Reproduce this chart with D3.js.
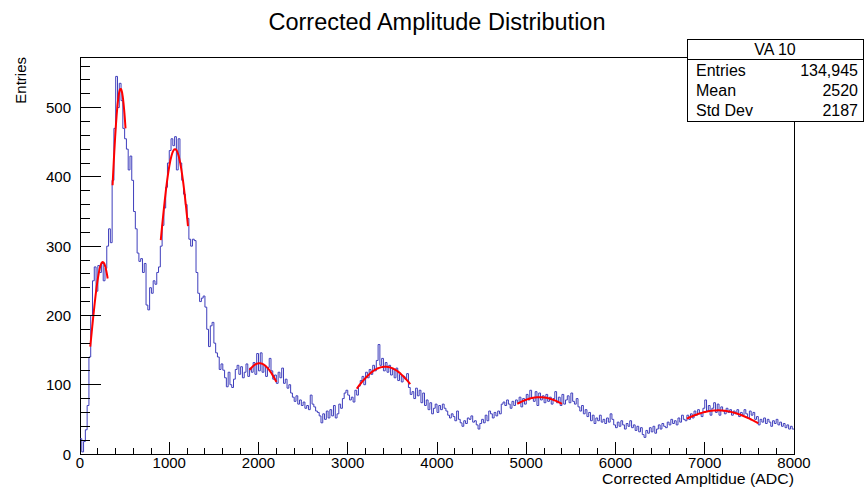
<!DOCTYPE html>
<html><head><meta charset="utf-8">
<script src="https://cdn.jsdelivr.net/npm/d3@7"></script>
<style>
html,body{margin:0;padding:0;background:#fff;}
svg{display:block;font-family:"Liberation Sans",Arial,Helvetica,sans-serif;}
</style></head>
<body><svg id="c" width="864" height="488"></svg>
<script>
// Histogram: 400 bins of 20 ADC from 0 to 8000
const binLow = 0, binHigh = 8000, binWidth = 20;
const counts = [
22,3,18,35,70,140,200,250,270,235, 272,262,275,250,268,300,325,305,395,470,
545,500,535,510,470,455,440,410,430,395, 350,325,290,278,282,262,275,215,208,240,
232,250,245,262,270,300,330,355,385,420, 438,455,445,458,410,455,420,395,375,360,
340,310,300,310,308,262,232,220,225,228, 212,180,155,185,190,160,146,140,122,130,
121,110,97,118,100,96,108,122,128,115, 126,110,118,130,112,124,118,132,115,145,
120,146,118,128,112,125,138,120,108,114, 102,118,110,124,102,108,95,100,88,82,
76,84,72,78,70,75,66,70,64,85, 72,68,62,60,55,45,58,50,62,52,
64,55,70,52,58,72,66,80,88,92, 85,78,82,75,92,85,98,106,112,100,
118,110,122,115,128,120,135,158,128,138, 120,132,118,128,114,122,110,124,106,115,
104,112,108,116,96,86,90,80,95,84, 92,74,88,70,78,64,74,58,66,72,
60,70,64,72,66,62,56,52,58,54, 48,62,50,45,40,48,44,52,50,55,
46,48,42,36,44,50,45,56,48,62, 58,52,60,55,62,58,72,75,70,78,
72,66,76,70,78,74,82,68,80,72, 86,78,92,80,76,90,70,88,78,84,
74,86,76,82,72,80,90,74,82,70, 86,72,78,84,74,88,76,72,80,68,
62,70,58,64,54,60,48,56,44,52, 48,56,46,50,44,52,46,58,50,42,
38,46,40,48,42,36,44,40,48,38, 42,34,40,32,38,28,24,34,30,38,
32,40,30,36,42,36,44,40,38,46, 42,50,44,48,42,52,46,56,50,48,
56,50,58,52,62,56,64,58,54,66, 78,62,70,56,66,74,60,72,56,68,
62,58,66,60,64,56,62,58,64,54, 60,56,64,58,52,62,56,60,50,54,
42,50,46,52,44,50,46,40,48,44, 50,42,46,40,44,38,42,36,40,36
];
// Gaussian fits: constant, mean, sigma, fit range
const fitConst = [277, 527, 440, 131, 126, 82, 63];
const fitMean  = [255, 455, 1065, 2010, 3420, 5150, 7150];
const fitSigma = [130, 115, 190, 280, 420, 500, 540];
const fitLow   = [115, 365, 905, 1900, 3100, 4900, 6800];
const fitHigh  = [310, 510, 1210, 2200, 3700, 5400, 7600];

const xTicks = [0,1000,2000,3000,4000,5000,6000,7000,8000];
const yTicks = [0,100,200,300,400,500];
const statsTitle = "VA 10";
const statsLabels = ["Entries","Mean","Std Dev"];
const statsValues = ["134,945","2520","2187"];

const svg = d3.select("#c");
const L = 80, R = 794, T = 57, B = 454;
const x = d3.scaleLinear().domain([binLow, binHigh]).range([L, R]);
const y = d3.scaleLinear().domain([0, 573]).range([B, T]);

// frame
svg.append("rect").attr("x", L).attr("y", T).attr("width", R - L).attr("height", B - T)
  .attr("fill", "none").attr("stroke", "#000").attr("stroke-width", 1).attr("shape-rendering","crispEdges");

// histogram steps
const steps = [];
counts.forEach((c, i) => {
  steps.push([binLow + i * binWidth, c]);
  steps.push([binLow + (i + 1) * binWidth, c]);
});
svg.append("path").datum(steps)
  .attr("d", d3.line().x(d => x(d[0])).y(d => y(d[1])))
  .attr("fill", "none").attr("stroke", "#3e3ebc").attr("stroke-width", 1);

// fits
fitConst.forEach((A, k) => {
  const pts = d3.range(fitLow[k], fitHigh[k] + 0.1, (fitHigh[k] - fitLow[k]) / 60)
    .map(v => [v, A * Math.exp(-0.5 * Math.pow((v - fitMean[k]) / fitSigma[k], 2))]);
  svg.append("path").datum(pts)
    .attr("d", d3.line().x(d => x(d[0])).y(d => y(d[1])).curve(d3.curveBasis))
    .attr("fill", "none").attr("stroke", "#ff0000").attr("stroke-width", 2);
});

// x axis ticks (inward)
const gx = svg.append("g").attr("shape-rendering","crispEdges");
d3.range(0, 8001, 200).forEach(v => {
  const major = v % 1000 === 0;
  gx.append("line").attr("x1", x(v)).attr("x2", x(v)).attr("y1", B).attr("y2", B - (major ? 12 : 6))
    .attr("stroke", "#000");
});
xTicks.forEach(v => {
  svg.append("text").attr("x", x(v)).attr("y", 468).attr("text-anchor", "middle")
    .attr("font-size", 15).text(v);
});
// y axis ticks (inward)
d3.range(0, 561, 20).forEach(v => {
  const major = v % 100 === 0;
  gx.append("line").attr("x1", L).attr("x2", L + (major ? 21 : 10)).attr("y1", y(v)).attr("y2", y(v))
    .attr("stroke", "#000");
});
yTicks.forEach(v => {
  svg.append("text").attr("x", 71).attr("y", y(v) + 5.5).attr("text-anchor", "end")
    .attr("font-size", 15).text(v);
});

// axis titles
svg.append("text").attr("x", R).attr("y", 484).attr("text-anchor", "end")
  .attr("font-size", 15).attr("textLength", 192).attr("lengthAdjust", "spacingAndGlyphs")
  .text("Corrected Ampltidue (ADC)");
svg.append("text").attr("transform", "translate(26,57) rotate(-90)").attr("text-anchor", "end")
  .attr("font-size", 15).text("Entries");

// title
svg.append("text").attr("x", 437).attr("y", 30).attr("text-anchor", "middle")
  .attr("font-size", 23.5).text("Corrected Amplitude Distribution");

// stats box
const sx = 687, sy = 39, sw = 176, sh = 82;
svg.append("rect").attr("x", sx + 0.5).attr("y", sy + 0.5).attr("width", sw).attr("height", sh)
  .attr("fill", "#fff").attr("stroke", "#000").attr("stroke-width", 1);
svg.append("line").attr("x1", sx).attr("x2", sx + sw).attr("y1", 59.5).attr("y2", 59.5).attr("stroke", "#000");
svg.append("text").attr("x", sx + sw / 2).attr("y", 55).attr("text-anchor", "middle")
  .attr("font-size", 16).text(statsTitle);
statsLabels.forEach((lab, i) => {
  const yy = 76 + i * 20;
  svg.append("text").attr("x", 696).attr("y", yy).attr("font-size", 16).text(lab);
  svg.append("text").attr("x", 858).attr("y", yy).attr("text-anchor", "end").attr("font-size", 16).text(statsValues[i]);
});
</script></body></html>
